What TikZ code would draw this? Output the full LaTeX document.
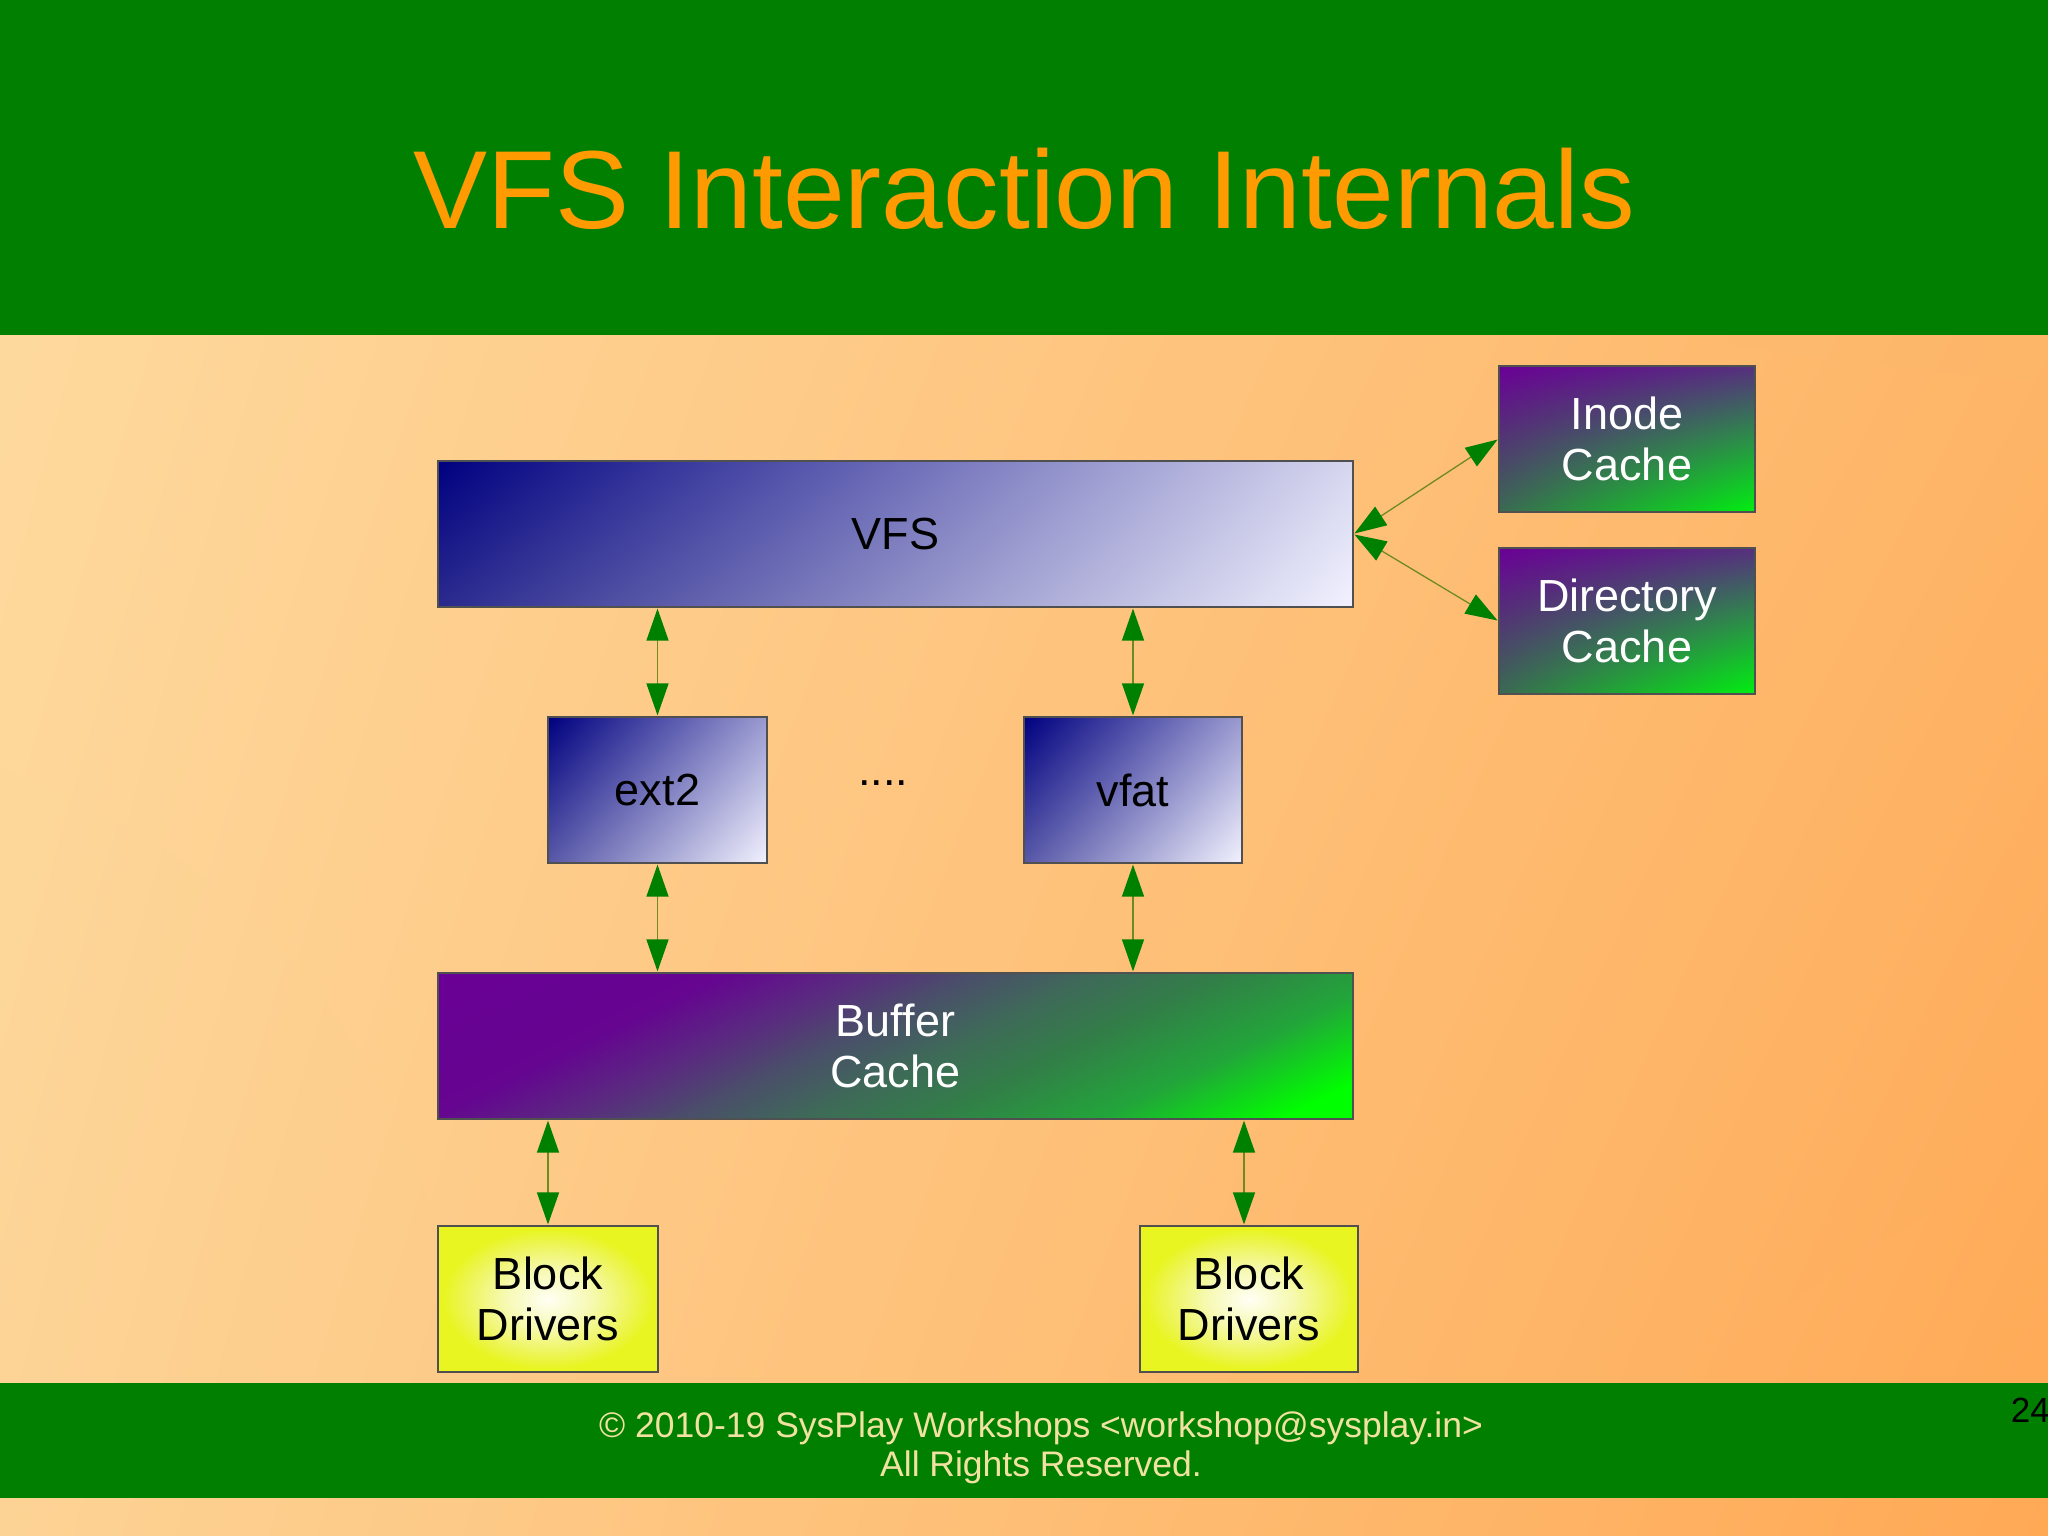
\documentclass[tikz,border=0pt]{standalone}
\usepackage{fontspec}
\setmainfont{Liberation Sans}
\usetikzlibrary{arrows.meta,shadings}
\definecolor{bandgreen}{HTML}{007F00}
\definecolor{titleorange}{HTML}{FF9A00}
\definecolor{foottext}{HTML}{F2E2A2}
\definecolor{bgUL}{HTML}{FEDBA0}
\definecolor{bgUR}{HTML}{FDB86C}
\definecolor{bgLL}{HTML}{FDD395}
\definecolor{bgLR}{HTML}{FFA955}
\definecolor{navy}{HTML}{000080}
\definecolor{paleblue}{HTML}{F2F2FF}
\definecolor{midblueA}{HTML}{D6D6EF}
\definecolor{midblueB}{HTML}{2A2A8E}
\definecolor{smallUR}{HTML}{9A9AD0}
\definecolor{smallLL}{HTML}{5858A8}
\definecolor{cpurple}{HTML}{6A0096}
\definecolor{cgreen}{HTML}{00F010}
\definecolor{cUR}{HTML}{55307E}
\definecolor{cLL}{HTML}{3A6A52}
\definecolor{bufA}{HTML}{650590}
\definecolor{bufB}{HTML}{5A2A80}
\definecolor{bufC}{HTML}{4A4E6A}
\definecolor{bufD}{HTML}{3E6A58}
\definecolor{bufE}{HTML}{327E48}
\definecolor{bufF}{HTML}{22A53A}
\definecolor{bufG}{HTML}{00FF00}
\definecolor{bdin}{HTML}{FFFFF5}
\definecolor{bdmid}{HTML}{F6F9B0}
\definecolor{bdmid2}{HTML}{EDF555}
\definecolor{bdout}{HTML}{E8F520}
\definecolor{linkolive}{HTML}{6E8A22}
\definecolor{headgreen}{HTML}{008000}
\definecolor{boxborder}{HTML}{505050}
\pgfdeclareradialshading{bdshade}{\pgfpoint{0bp}{0bp}}{color(0bp)=(bdin); color(10bp)=(bdmid); color(19bp)=(bdmid2); color(24bp)=(bdout); color(50bp)=(bdout)}
\pgfdeclarehorizontalshading{bufshadeH}{900bp}{color(0bp)=(cpurple); color(3bp)=(cpurple); color(130bp)=(bufA); color(190bp)=(bufB); color(240bp)=(bufC); color(295bp)=(bufD); color(350bp)=(bufE); color(425bp)=(bufF); color(505bp)=(bufG); color(540bp)=(bufG)}
\tikzset{
  box/.style={draw=boxborder, line width=1.2pt, inner sep=0pt, align=center,
    font=\fontsize{45}{51}\selectfont},
  bluebig/.style={box, upper left=navy, upper right=midblueA, lower left=midblueB, lower right=paleblue, text=black},
  bluesmall/.style={box, upper left=navy, upper right=smallUR, lower left=smallLL, lower right=paleblue, text=black},
  cachebox/.style={box, upper left=cpurple, upper right=cUR, lower left=cLL, lower right=cgreen, text=white},
  bufbox/.style={box, text=white},
  drvbox/.style={box, shading=bdshade, shade, text=black, draw=boxborder},
  link/.style={draw=linkolive, line width=1.3pt,
    {Triangle[length=32pt,width=22pt,color=headgreen]}-{Triangle[length=32pt,width=22pt,color=headgreen]},
    shorten <=1pt, shorten >=1pt}
}
\begin{document}
\begin{tikzpicture}[x=1pt,y=-1pt]
\useasboundingbox (0,0) rectangle (2048,1535);
\shade[upper left=bgUL, upper right=bgUR, lower left=bgLL, lower right=bgLR] (0,0) rectangle (2048,1535);
\fill[bandgreen] (0,0) rectangle (2048,335);
\fill[bandgreen] (0,1383) rectangle (2048,1498);
\node[text=titleorange, font=\fontsize{111}{120}\selectfont, inner sep=0pt] (title) at (1024,189) {VFS Interaction Internals};

\node[bluebig, minimum width=915pt, minimum height=146pt] (vfs) at (895.5,534) {VFS};
\node[cachebox, minimum width=256pt, minimum height=146pt] (inode) at (1627,439) {Inode\\Cache};
\node[cachebox, minimum width=256pt, minimum height=146pt] (dir) at (1627,621) {Directory\\Cache};
\node[bluesmall, minimum width=219pt, minimum height=146pt] (ext2) at (657.5,790) {ext2};
\node[bluesmall, minimum width=218pt, minimum height=146pt] (vfat) at (1133,790) {vfat};
\node[font=\fontsize{45}{51}\selectfont, anchor=base, inner sep=0pt] (dots) at (883,785) {....};

\coordinate (bufc) at (895.5,1046);
\begin{scope}
\clip (438,973) rectangle (1353,1119);
\pgftransformshift{\pgfpointanchor{bufc}{center}}
\pgftransformrotate{-63.8}
\pgftext{\pgfuseshading{bufshadeH}}
\end{scope}
\node[bufbox, minimum width=915pt, minimum height=146pt] (buf) at (bufc) {Buffer\\Cache};

\node[drvbox, minimum width=220pt, minimum height=146pt] (bd1) at (548,1299) {Block\\Drivers};
\node[drvbox, minimum width=218pt, minimum height=146pt] (bd2) at (1249,1299) {Block\\Drivers};

\draw[link] (vfs.east) -- (inode.west);
\draw[link] (vfs.east) -- (dir.west);
\draw[link] (ext2.north |- vfs.south) -- (ext2.north);
\draw[link] (vfat.north |- vfs.south) -- (vfat.north);
\draw[link] (ext2.south) -- (ext2.south |- buf.north);
\draw[link] (vfat.south) -- (vfat.south |- buf.north);
\draw[link] (bd1.north |- buf.south) -- (bd1.north);
\coordinate (bd2top) at ([xshift=-5pt]bd2.north);
\draw[link] (bd2top |- buf.south) -- (bd2top);

\node[text=foottext, font=\fontsize{35.5}{39}\selectfont, anchor=base, inner sep=0pt] (foot1) at (1041,1437) {© 2010-19 SysPlay Workshops <workshop@sysplay.in>};
\node[text=foottext, font=\fontsize{35.5}{39}\selectfont, anchor=base, inner sep=0pt] (foot2) at (1041,1476) {All Rights Reserved.};
\node[text=black, font=\fontsize{35}{39}\selectfont, anchor=base east, inner sep=0pt] (pnum) at (2050,1422) {24};
\end{tikzpicture}
\end{document}
